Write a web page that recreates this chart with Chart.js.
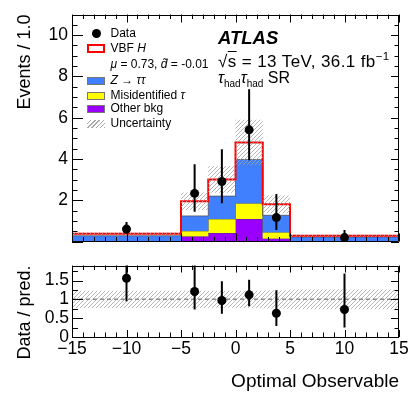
<!DOCTYPE html>
<html>
<head>
<meta charset="utf-8">
<script src="https://cdn.jsdelivr.net/npm/chart.js@4.4.1/dist/chart.umd.min.js"></script>
<style>
  html, body { margin: 0; padding: 0; background: #fff; }
  #wrap { position: relative; width: 413px; height: 393px; overflow: hidden;
          font-family: "Liberation Sans", Arial, Helvetica, sans-serif; }
  canvas { position: absolute; left: 0; }
  .t { position: absolute; white-space: nowrap; line-height: 1; color: #000; z-index: 2; }
  .sw { position: absolute; z-index: 2; box-sizing: border-box; }
  sub, sup { line-height: 0; }
</style>
</head>
<body>
<div id="wrap">
  <canvas id="main" width="413" height="256" style="top:0"></canvas>
  <canvas id="ratio" width="413" height="141" style="top:252px"></canvas>

  <!-- ATLAS label -->
  <div class="t" style="left:218px;top:28.5px;font-size:18.5px;font-weight:bold;font-style:italic;">ATLAS</div>
  <div class="t" style="left:218px;top:52.5px;font-size:17px;letter-spacing:0.4px;">&radic;<span style="text-decoration:overline">s</span> = 13 TeV, 36.1 fb<sup style="font-size:11.5px">&minus;1</sup></div>
  <div class="t" style="left:218px;top:69.5px;font-size:16px;"><i>&tau;</i><sub style="font-size:10px">had</sub><i>&tau;</i><sub style="font-size:10px">had</sub> SR</div>

  <!-- legend -->
  <div class="sw" style="left:91.5px;top:28.5px;width:9px;height:9px;border-radius:50%;background:#000;"></div>
  <div class="t" style="left:110.5px;top:26.5px;font-size:12px;">Data</div>

  <div class="sw" style="left:87px;top:43.5px;width:18px;height:9px;border:2px solid #ff0000;background:#fff;"></div>
  <div class="t" style="left:110.5px;top:42px;font-size:12px;">VBF <i>H</i></div>

  <div class="t" style="left:110.5px;top:57.5px;font-size:12px;"><i>&mu;</i> = 0.73, <i>d&#771;</i> = -0.01</div>

  <div class="sw" style="left:87px;top:76.5px;width:18px;height:8px;background:#4080ff;border:1px solid #777;"></div>
  <div class="t" style="left:110.5px;top:73.5px;font-size:12px;"><i>Z</i> &rarr; <i>&tau;&tau;</i></div>

  <div class="sw" style="left:87px;top:91.5px;width:18px;height:8px;background:#ffff00;border:1px solid #777;"></div>
  <div class="t" style="left:110.5px;top:88.5px;font-size:12px;">Misidentified <i>&tau;</i></div>

  <div class="sw" style="left:87px;top:105px;width:18px;height:8px;background:#9a00ff;border:1px solid #777;"></div>
  <div class="t" style="left:110.5px;top:102px;font-size:12px;">Other bkg</div>

  <div class="sw" style="left:87px;top:119.5px;width:18px;height:8px;background:repeating-linear-gradient(-45deg,#aaa 0 1px,#fff 1px 3px);"></div>
  <div class="t" style="left:110.5px;top:117px;font-size:12px;">Uncertainty</div>
</div>

<script>
// -- data --
const BIN_EDGES = [-15, -5, -2.5, 0, 2.5, 5, 15];

const OTHER_BKG = [0.00, 0.25, 0.41, 1.09, 0.14, 0.00];
const MISID_TAU = [0.01, 0.26, 0.68, 0.76, 0.31, 0.01];
const Z_TAUTAU  = [0.27, 0.73, 1.11, 2.12, 0.82, 0.21];
const VBF_H     = [0.10, 0.71, 0.81, 0.83, 0.53, 0.06];
const UNCERT    = [0.07, 0.43, 0.65, 1.10, 0.43, 0.05];

const DATA_X  = [-10, -3.75, -1.25, 1.25, 3.75, 10];
const DATA_Y  = [0.60, 2.33, 2.91, 5.41, 1.16, 0.19];
const DATA_HI = [0.94, 3.74, 4.47, 7.38, 2.30, 0.56];
const DATA_LO = [0.36, 1.44, 1.85, 3.94, 0.56, 0.07];

const RATIO_Y   = [1.56, 1.21, 0.97, 1.12, 0.63, 0.73];
const RATIO_HI  = [2.50, 1.95, 1.48, 1.52, 1.24, 1.69];
const RATIO_LO  = [0.95, 0.73, 0.62, 0.82, 0.29, 0.25];
const RATIO_UNC = [0.23, 0.23, 0.22, 0.23, 0.24, 0.26];

const X_TICKS = [-15, -10, -5, 0, 5, 10, 15];
const MAIN_Y_TICKS = [2, 4, 6, 8, 10];
const RATIO_Y_TICKS = [0, 0.5, 1, 1.5];

const COLORS = {
    blue: '#4080ff',
    yellow: '#ffff00',
    purple: '#9a00ff',
    red: '#ff0000',
    edge: 'rgba(70, 70, 70, 0.7)',
};

const FONT = "'Liberation Sans', Arial, Helvetica, sans-serif";
Chart.defaults.font.family = FONT;
Chart.defaults.color = '#000';

// hatch pattern for the uncertainty band
function makeHatch() {
    const c = document.createElement('canvas');
    c.width = 4; c.height = 4;
    const g = c.getContext('2d');
    g.strokeStyle = '#a4a4a4';
    g.lineWidth = 0.8;
    g.beginPath();
    g.moveTo(0, 4); g.lineTo(4, 0);
    g.moveTo(-1, 1); g.lineTo(1, -1);
    g.moveTo(3, 5); g.lineTo(5, 3);
    g.stroke();
    return g.createPattern(c, 'repeat');
}
const HATCH = makeHatch();

// histogram as step points at left bin edges, closed at the right edge
function steps(vals) {
    const pts = vals.map((v, i) => ({ x: BIN_EDGES[i], y: v }));
    pts.push({ x: BIN_EDGES[BIN_EDGES.length - 1], y: vals[vals.length - 1] });
    return pts;
}
function cumulate(...arrs) {
    return arrs[0].map((_, i) => arrs.reduce((s, a) => s + a[i], 0));
}

const cum1 = cumulate(OTHER_BKG);
const cum2 = cumulate(OTHER_BKG, MISID_TAU);
const cum3 = cumulate(OTHER_BKG, MISID_TAU, Z_TAUTAU);
const total = cumulate(OTHER_BKG, MISID_TAU, Z_TAUTAU, VBF_H);

function minorRange(a, b, step) {
    const out = [];
    for (let v = a; v <= b + 1e-9; v += step) out.push(+v.toFixed(4));
    return out;
}

// inward ROOT-style ticks on all four sides + frame
const frameTicks = {
    id: 'frameTicks',
    afterDraw(chart, args, o) {
        const { ctx, chartArea: a, scales: { x, y } } = chart;
        ctx.save();
        ctx.strokeStyle = '#000';
        ctx.lineWidth = 1;
        ctx.beginPath();
        o.xMinor.forEach(v => {
            const p = Math.round(x.getPixelForValue(v)) + 0.5;
            const len = o.xMajor.includes(v) ? o.xMajorLen : o.xMinorLen;
            ctx.moveTo(p, a.bottom); ctx.lineTo(p, a.bottom - len);
            ctx.moveTo(p, a.top); ctx.lineTo(p, a.top + len);
        });
        o.yMinor.forEach(v => {
            const p = Math.round(y.getPixelForValue(v)) + 0.5;
            const major = o.yMajor.includes(v);
            ctx.moveTo(a.left, p); ctx.lineTo(a.left + (major ? o.yMajorLen : o.yMinorLen), p);
            ctx.moveTo(a.right, p); ctx.lineTo(a.right - (major ? o.yMajorLenR : o.yMinorLenR), p);
        });
        ctx.rect(Math.round(a.left) + 0.5, Math.round(a.top) + 0.5,
                 Math.round(a.width) - 1, Math.round(a.height) - 1);
        ctx.stroke();
        ctx.restore();
    },
};

// vertical error bars on the data points
const errorBars = {
    id: 'errorBars',
    afterDatasetsDraw(chart) {
        const { ctx, chartArea: a, scales: { x, y } } = chart;
        ctx.save();
        ctx.beginPath();
        ctx.rect(a.left, a.top, a.width, a.height);
        ctx.clip();
        ctx.strokeStyle = '#000';
        ctx.lineWidth = 2;
        chart.data.datasets.forEach(ds => {
            if (!ds.errors) return;
            ds.data.forEach(pt => {
                const px = x.getPixelForValue(pt.x);
                ctx.beginPath();
                ctx.moveTo(px, y.getPixelForValue(pt.lo));
                ctx.lineTo(px, y.getPixelForValue(pt.hi));
                ctx.stroke();
            });
        });
        ctx.restore();
    },
};

const stepLine = (data, extra) => Object.assign({
    type: 'line',
    data,
    stepped: true,
    pointRadius: 0,
    borderWidth: 1,
    borderColor: COLORS.edge,
    fill: false,
}, extra);

const pointsSet = (xs, ys, lo, hi) => ({
    type: 'line',
    data: xs.map((x, i) => ({ x, y: ys[i], lo: lo[i], hi: hi[i] })),
    showLine: false,
    pointRadius: 4.5,
    pointBackgroundColor: '#000',
    pointBorderWidth: 0,
    errors: true,
    order: 0,
});

function fixWidth(w) { return (s) => { s.width = w; }; }

new Chart(document.getElementById('main'), {
    type: 'line',
    data: {
        datasets: [
            stepLine(steps(cum1), { backgroundColor: COLORS.purple, fill: 'origin', order: 5 }),
            stepLine(steps(cum2), { backgroundColor: COLORS.yellow, fill: { target: 0 }, order: 4 }),
            stepLine(steps(cum3), { backgroundColor: COLORS.blue, fill: { target: 1 }, order: 3 }),
            stepLine(steps(total), { borderColor: COLORS.red, borderWidth: 2, order: 2 }),
            stepLine(steps(total.map((v, i) => v - UNCERT[i])), { borderWidth: 0, order: 1 }),
            stepLine(steps(total.map((v, i) => v + UNCERT[i])), { borderWidth: 0, backgroundColor: HATCH, fill: { target: 4 }, order: 1 }),
            pointsSet(DATA_X, DATA_Y, DATA_LO, DATA_HI),
        ],
    },
    options: {
        responsive: false,
        animation: false,
        layout: { padding: { top: 11, right: 14, bottom: 4, left: 0 } },
        plugins: {
            legend: { display: false },
            tooltip: { enabled: false },
            frameTicks: {
                xMinor: minorRange(-15, 15, 1), xMajor: X_TICKS, xMajorLen: 8, xMinorLen: 4.5,
                yMinor: minorRange(0, 11, 0.5), yMajor: MAIN_Y_TICKS.concat([0]),
                yMajorLen: 11, yMinorLen: 5.5, yMajorLenR: 8, yMinorLenR: 4.5,
            },
        },
        scales: {
            x: { type: 'linear', min: -15, max: 15, display: false },
            y: {
                type: 'linear', min: 0, max: 11,
                afterFit: fixWidth(72),
                afterBuildTicks: (s) => { s.ticks = MAIN_Y_TICKS.map(v => ({ value: v })); },
                grid: { display: false, drawTicks: false },
                border: { display: false },
                ticks: { padding: 4, font: { size: 17.5 }, autoSkip: false },
                title: {
                    display: true, text: 'Events / 1.0', align: 'end',
                    font: { size: 18 }, padding: { top: 14, bottom: 0 },
                },
            },
        },
    },
    plugins: [frameTicks, errorBars],
});

new Chart(document.getElementById('ratio'), {
    type: 'line',
    data: {
        datasets: [
            stepLine(steps(RATIO_UNC.map(u => 1 - u)), { borderWidth: 0, order: 3 }),
            stepLine(steps(RATIO_UNC.map(u => 1 + u)), { borderWidth: 0, backgroundColor: HATCH, fill: { target: 0 }, order: 3 }),
            { type: 'line', data: [{ x: -15, y: 1 }, { x: 15, y: 1 }], borderColor: '#8c8c8c',
              borderWidth: 1.5, borderDash: [4, 3], pointRadius: 0, fill: false, order: 2 },
            pointsSet(DATA_X, RATIO_Y, RATIO_LO, RATIO_HI),
        ],
    },
    options: {
        responsive: false,
        animation: false,
        layout: { padding: { top: 5, right: 14, bottom: 0, left: 0 } },
        plugins: {
            legend: { display: false },
            tooltip: { enabled: false },
            frameTicks: {
                xMinor: minorRange(-15, 15, 1), xMajor: X_TICKS, xMajorLen: 7, xMinorLen: 4.5,
                yMinor: minorRange(0, 1.75, 0.25), yMajor: RATIO_Y_TICKS,
                yMajorLen: 11, yMinorLen: 6, yMajorLenR: 8, yMinorLenR: 4.5,
            },
        },
        scales: {
            x: {
                type: 'linear', min: -15, max: 15,
                afterFit: (s) => { s.height = 56; },
                afterBuildTicks: (s) => { s.ticks = X_TICKS.map(v => ({ value: v })); },
                grid: { display: false, drawTicks: false },
                border: { display: false },
                ticks: {
                    padding: 2, font: { size: 17.5 }, maxRotation: 0, autoSkip: false,
                    callback: (v) => (v < 0 ? '\u2212' + Math.abs(v) : String(v)),
                },
                title: {
                    display: true, text: 'Optimal Observable', align: 'end',
                    font: { size: 19 }, padding: { top: 0, bottom: 0 },
                },
            },
            y: {
                type: 'linear', min: 0, max: 1.9,
                afterFit: fixWidth(72),
                afterBuildTicks: (s) => { s.ticks = RATIO_Y_TICKS.map(v => ({ value: v })); },
                grid: { display: false, drawTicks: false },
                border: { display: false },
                ticks: { padding: 3, font: { size: 17.5 }, autoSkip: false, callback: (v) => String(v) },
                title: {
                    display: true, text: 'Data / pred.', align: 'end',
                    font: { size: 18 }, padding: { top: 14, bottom: 0 },
                },
            },
        },
    },
    plugins: [frameTicks, errorBars],
});
</script>
</body>
</html>
